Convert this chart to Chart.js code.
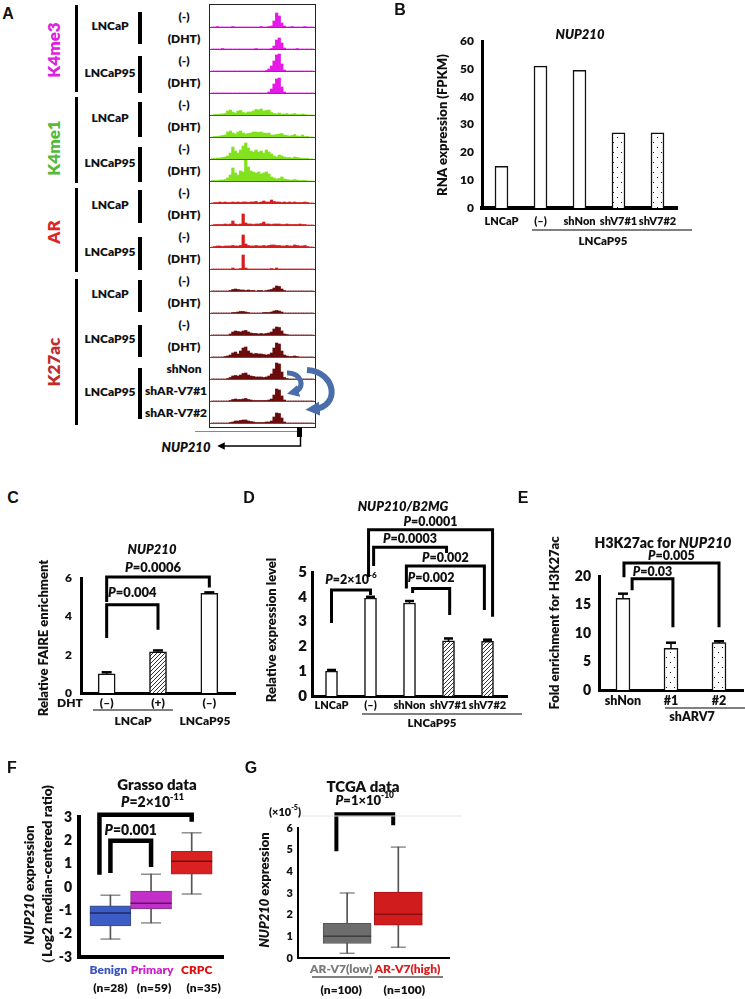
<!DOCTYPE html>
<html>
<head>
<meta charset="utf-8">
<script src="https://cdn.jsdelivr.net/npm/chart.js@4.4.1/dist/chart.umd.min.js"></script>
<style>
body { margin: 0; background: #fff; }
#fig { position: relative; width: 745px; height: 999px; overflow: hidden; font-family: Lato, "DejaVu Sans", sans-serif; color: #111; }
.lbl { position: absolute; white-space: nowrap; font-weight: 800; transform: translate(-50%, -50%); line-height: 1; }
.letter { position: absolute; font-family: "Liberation Sans", Arial, sans-serif; font-weight: bold; font-size: 16px; transform: translate(-50%, -50%); }
</style>
</head>
<body>
<div id="fig"></div>
<script>
// ---------- data ----------
// panel A : signal tracks (40 bins across the locus)
const markNames = ['K4me3', 'K4me1', 'AR', 'K27ac'];
const trackMark = [0,0,0,0, 1,1,1,1, 2,2,2,2, 3,3,3,3,3,3,3];
const trackConds = ['(-)','(DHT)','(-)','(DHT)', '(-)','(DHT)','(-)','(DHT)', '(-)','(DHT)','(-)','(DHT)',
                    '(-)','(DHT)','(-)','(DHT)','shNon','shAR-V7#1','shAR-V7#2'];
const cellLines = ['LNCaP','LNCaP95','LNCaP','LNCaP95','LNCaP','LNCaP95','LNCaP','LNCaP95','LNCaP95'];
const trackSignals = [
  [0,0,0.5,0,0,0,0,0,0.5,0,0,0,0,0,0,0,0,0,0,0.5,0,0,0.5,1,6,14,11,4,1,0,0,0.5,0,0,0,0,0.5,0,0,0],
  [0,0,0,0,0.5,0,0,0,0,0,0,0,0,0,0,0,0,0.5,0,0,0,0,0,0.5,3,9,11,6,1,0,0,0,0,0.5,0,0,0,0,0,0],
  [0,0,0,0,0,0,0,0,0,0,0,0,0,0,0,0,0,0,0,0,0,0.5,2,5,10,16,17,7,1,0,0,0,0,0,0,0,0,0,0,0],
  [0,0,0,0,0,0,0,0,0,0,0,0,0,0,0,0,0,0,0,0,0,0,1,4,9,14,15,6,1,0,0,0,0,0,0,0,0,0,0,0],
  [0,0.5,0.5,1,1,1.5,4,5,3,2,4,4.5,2.5,2,3,3,4,5.5,5,6,4,4.5,5,2.5,1.5,1,2,1,1,1.5,0.5,1,1.5,0.5,0.5,1,0.5,0,0,0],
  [0,0.5,0.5,1,1.5,2,5,6,4,3,5,6,4,3,3.5,4,5,5,4.5,5,4,3.5,4,2,2,2.5,3,3.5,2,1.5,1,1.5,2.5,1,0.5,2,0.5,0.5,0,0],
  [0.5,0.5,1,1,1.5,2,3,6,12,8,6,9,13,16,11,8,7,9,7,8,6,9,7,5,3,2,4,3,2,1.5,1.5,1,2,1.5,1,0.5,0.5,0.5,0,0],
  [0.5,0.5,0.5,1,1,1.5,3,6,13,8,6,10,9,21,14,10,9,8,9,7,8,9,7,4,3,2,2.5,4,2,1.5,1,1,1.5,1,0.5,0.5,0.5,0,0,0],
  [0,0.5,0.5,1,0.5,1,0.5,0.5,1,0.5,1,0.5,1,1,0.5,1,1,1.5,0.5,1,2,1,1,3,1.5,1,1,0.5,1,0.5,1,0.5,1,0.5,0.5,0.5,1,0.5,0,0],
  [0,0.5,0.5,0.5,0.5,1,0.5,1,4,1,0.5,1,11,2,1,1,0.5,1,1,1.5,3,1,1,0.5,1,1,1,0.5,0.5,1,0.5,0.5,0.5,0.5,1,0.5,0.5,0,0,0],
  [0,0.5,1,1,0.5,1,1,1,1.5,1,1,1.5,12,3,1.5,1,1,1.5,1,1,1.5,1,1.5,2,2,1.5,1.5,1,1,1.5,1,1,2,1.5,1,1,1.5,0.5,0,0],
  [0,0,0,0,0,0,0,0,1,0,0,0.5,14,1,0,0,0,0,0,0,0,0,0,0.5,0,1,0,0,0,0,0,0,0,0,0,0,0,0,0,0],
  [0,0,0,0,0,0,0,0.5,1.5,2,1.5,1,1,0.5,1,0.5,0.5,0,0.5,0.5,0,0.5,1,1.5,3,5,4.5,2,0.5,0,0,0,0,0,0,0,0,0,0,0],
  [0,0,0,0,0,0,0,0,0.5,0.5,1,1.5,1.5,1,0.5,0,0,0,0,0,0.5,0.5,0.5,1,2,2.5,2,1,0,0,0,0,0,0,0,0,0,0,0,0],
  [0,0,0,0,0,0,0,1,3,4,3.5,3,4,4.5,3,2,1.5,1.5,1,1.5,1,1.5,2,3,6,8,7.5,4,1,0.5,0,0,0,0,0,0,0,0,0,0],
  [0,0,0,0,0,0.5,1,2,4,5,3,6,9,10,6,4,3,3.5,3,3,2.5,2,2.5,4,9,14,13,6,2,1,0.5,0.5,1,0.5,0,0,0,0,0,0],
  [0,0,0,0,0,0,0.5,1.5,3,3.5,3,4,5.5,6,4,3,2.5,2,2,2,1.5,2,3,5,10,16,15,7,1.5,0.5,0,0,0,0,0,0,0,0,0,0],
  [0,0,0,0,0,0,0,0.5,1.5,2,1.5,1.5,2,2.5,1.5,1,0.5,0.5,0.5,0.5,0.5,0.5,1,2,6,12,11,5,1,0,0,0,0,0,0,0,0,0,0,0],
  [0,0,0,0,0,0,0,0.5,1,2,2,2.5,3,3,2,1.5,1,0.5,0.5,0.5,0.5,1,1,2,6,10,9.5,5,1,0,0,0,0,0,0,0,0,0,0,0]
];

// panel B
const bCats = ['LNCaP', '(–)', 'shNon', 'shV7#1', 'shV7#2'];
const bValues = [15, 51, 49.5, 27, 27];
// panel C
const cCats = ['(–)', '(+)', '(–)'];
const cValues = [1.0, 2.15, 5.2];
const cErrors = [0.08, 0.07, 0.05];
// panel D
const dCats = ['LNCaP', '(–)', 'shNon', 'shV7#1', 'shV7#2'];
const dValues = [1.0, 3.95, 3.75, 2.22, 2.2];
const dErrors = [0.05, 0.05, 0.08, 0.1, 0.07];
// panel E
const eCats = ['shNon', '#1', '#2'];
const eValues = [16.1, 7.3, 8.3];
const eErrors = [0.8, 1.0, 0.25];
// panel F
const fGroups = ['Benign', 'Primary', 'CRPC'];
const fCounts = ['(n=28)', '(n=59)', '(n=35)'];
const fMin = [-2.23, -1.54, -0.3];
const fQ1 = [-1.67, -0.94, 0.55];
const fMedian = [-1.11, -0.7, 1.1];
const fQ3 = [-0.81, -0.18, 1.53];
const fMax = [-0.35, 0.55, 2.32];
// panel G
const gGroups = ['AR-V7(low)', 'AR-V7(high)'];
const gCounts = ['(n=100)', '(n=100)'];
const gMin = [0.22, 0.5];
const gQ1 = [0.67, 1.52];
const gMedian = [1.0, 2.02];
const gQ3 = [1.6, 3.04];
const gMax = [3.0, 5.12];

// ---------- helpers ----------
const FONT = 'Lato, "DejaVu Sans", sans-serif';
const W = '800';
Chart.defaults.font.family = FONT;
Chart.defaults.color = '#111';
const fig = document.getElementById('fig');

function place(left, top, w, h) {
  const c = document.createElement('canvas');
  c.width = w; c.height = h;
  c.style.cssText = `position:absolute;left:${left}px;top:${top}px;width:${w}px;height:${h}px`;
  fig.appendChild(c);
  return c;
}
function lbl(text, x, y, size, color, extra) {
  const d = document.createElement('div');
  d.className = 'lbl';
  d.textContent = text;
  d.style.left = x + 'px'; d.style.top = y + 'px'; d.style.fontSize = size + 'px';
  if (color) d.style.color = color;
  if (extra) d.style.cssText += extra;
  fig.appendChild(d);
  return d;
}
function block(x, y, w, h, bg) {
  const d = document.createElement('div');
  d.style.cssText = `position:absolute;left:${x}px;top:${y}px;width:${w}px;height:${h}px;background:${bg}`;
  fig.appendChild(d);
}
function fontStr(size, italic, weight) {
  return (italic ? 'italic ' : '') + (weight || W) + ' ' + size + 'px ' + FONT;
}
// draw text made of parts: strings or {t, i (italic), sup}
function rich(ctx, parts, x, y, size, align, color, weight) {
  const items = parts.map(p => typeof p === 'string' ? { t: p } : { t: p.t, i: p.i, sup: p.sup });
  let w = 0;
  items.forEach(p => {
    p.s = p.sup ? size * 0.65 : size;
    ctx.font = fontStr(p.s, p.i, weight);
    p.w = ctx.measureText(p.t).width;
    w += p.w;
  });
  let cx = align === 'center' ? x - w / 2 : align === 'right' ? x - w : x;
  ctx.textBaseline = 'middle';
  ctx.textAlign = 'left';
  items.forEach(p => {
    ctx.font = fontStr(p.s, p.i, weight);
    ctx.fillStyle = color || '#111';
    ctx.fillText(p.t, cx, p.sup ? y - size * 0.38 : y);
    cx += p.w;
  });
}
const P = s => [{ t: 'P', i: 1 }, s];

function dotPattern() {
  const c = document.createElement('canvas'); c.width = 8; c.height = 10;
  const g = c.getContext('2d');
  g.fillStyle = '#fff'; g.fillRect(0, 0, 8, 10);
  g.fillStyle = '#111'; g.fillRect(1, 2, 1, 1); g.fillRect(5, 7, 1, 1);
  return g.createPattern(c, 'repeat');
}
function hatchPattern() {
  const c = document.createElement('canvas'); c.width = 4; c.height = 4;
  const g = c.getContext('2d');
  g.fillStyle = '#fff'; g.fillRect(0, 0, 4, 4);
  g.strokeStyle = '#333'; g.lineWidth = 1;
  g.beginPath();
  g.moveTo(0, 4); g.lineTo(4, 0);
  g.moveTo(-1, 1); g.lineTo(1, -1);
  g.moveTo(3, 5); g.lineTo(5, 3);
  g.stroke();
  return g.createPattern(c, 'repeat');
}
const DOT = dotPattern();
const HATCH = hatchPattern();

// plugin factory: error bars, significance brackets, extra texts and lines
function annot(o) {
  return {
    id: 'annot',
    afterDraw(chart) {
      const ctx = chart.ctx, xs = chart.scales.x, ys = chart.scales.y;
      const ox = o.origin[0], oy = o.origin[1];
      ctx.save();
      ctx.strokeStyle = '#000';
      if (o.errors) {
        const vals = chart.data.datasets[0].data;
        o.errors.forEach((e, i) => {
          const x = xs.getPixelForValue(i), y0 = ys.getPixelForValue(vals[i]), y1 = ys.getPixelForValue(vals[i] + e);
          ctx.lineWidth = 1.5;
          ctx.beginPath(); ctx.moveTo(x, y0); ctx.lineTo(x, y1); ctx.stroke();
          ctx.lineWidth = 2.5;
          ctx.beginPath(); ctx.moveTo(x - o.capW / 2, y1); ctx.lineTo(x + o.capW / 2, y1); ctx.stroke();
        });
      }
      (o.brackets || []).forEach(b => {
        const x1 = xs.getPixelForValue(b.from), x2 = xs.getPixelForValue(b.to);
        const yt = ys.getPixelForValue(b.top);
        ctx.lineWidth = o.bw; ctx.strokeStyle = '#000'; ctx.lineJoin = 'miter';
        ctx.beginPath();
        ctx.moveTo(x1, ys.getPixelForValue(b.l)); ctx.lineTo(x1, yt);
        ctx.lineTo(x2, yt); ctx.lineTo(x2, ys.getPixelForValue(b.r));
        ctx.stroke();
        rich(ctx, b.label, (x1 + x2) / 2 + (b.dx || 0), yt - b.dy, o.pSize, 'center', '#111');
      });
      (o.lines || []).forEach(l => {
        ctx.lineWidth = l.w || 1; ctx.strokeStyle = l.c || '#000';
        ctx.beginPath(); ctx.moveTo(l.x1 - ox, l.y1 - oy); ctx.lineTo(l.x2 - ox, l.y2 - oy); ctx.stroke();
      });
      (o.texts || []).forEach(t => {
        ctx.save();
        ctx.translate(t.x - ox, t.y - oy);
        if (t.rot) ctx.rotate(-Math.PI / 2);
        rich(ctx, t.parts, 0, 0, t.size, t.align || 'center', t.color, t.weight);
        ctx.restore();
      });
      (o.xLabels || []).forEach(row => row.values.forEach((v, i) => {
        rich(ctx, [v], xs.getPixelForValue(i) + (row.dx ? row.dx[i] : 0), row.y - oy, row.size, 'center', row.colors ? row.colors[i] : '#111');
      }));
      ctx.restore();
    }
  };
}

function padding(p) {
  const [cl, ct, cw, ch] = p.canvas, [al, at, ar, ab] = p.area;
  return { left: al - cl - p.yw, top: at - ct, right: cl + cw - ar, bottom: ct + ch - ab - p.xh };
}

function barPanel(p) {
  const cv = place(...p.canvas);
  new Chart(cv, {
    type: 'bar',
    data: {
      labels: p.labels,
      datasets: [{ data: p.values, backgroundColor: p.fills, borderColor: '#111', borderWidth: 1.5, barThickness: p.barW }]
    },
    options: {
      responsive: false, animation: false, events: [], devicePixelRatio: 1,
      layout: { padding: padding(p) },
      plugins: { legend: { display: false }, tooltip: { enabled: false } },
      scales: {
        x: {
          grid: { display: false, drawTicks: false },
          border: { color: '#000', width: p.xBorder },
          ticks: { color: '#111', font: { size: p.xFont, weight: W }, padding: p.xPad, maxRotation: 0, autoSkip: false },
          afterFit: s => { s.height = p.xh; }
        },
        y: {
          min: 0, max: p.yMax,
          grid: { display: false, drawTicks: false },
          border: { color: '#000', width: p.yBorder },
          ticks: { stepSize: p.yStep, color: '#111', font: { size: p.yFont, weight: W }, padding: p.yPad },
          afterFit: s => { s.width = p.yw; }
        }
      }
    },
    plugins: [annot(Object.assign({ origin: [p.canvas[0], p.canvas[1]] }, p.annot))]
  });
}

function boxPanel(p) {
  const cv = place(...p.canvas);
  const idx = p.q1.map((_, i) => i);
  new Chart(cv, {
    type: 'bar',
    data: {
      datasets: [
        { type: 'line', showLine: false, order: 0, data: idx.map(i => ({ x: i, y: p.median[i] })),
          pointStyle: 'line', pointRadius: p.boxW / 2, pointBorderColor: p.medColors, pointBorderWidth: 1.5 },
        { type: 'line', showLine: false, order: 1,
          data: idx.flatMap(i => [{ x: i, y: p.min[i] }, { x: i, y: p.max[i] }]),
          pointStyle: 'line', pointRadius: p.capR, pointBorderColor: '#555', pointBorderWidth: 1 },
        { type: 'bar', order: 2, grouped: false, data: idx.map(i => ({ x: i, y: [p.q1[i], p.q3[i]] })),
          backgroundColor: p.fills, borderColor: p.edges, borderWidth: 1, borderSkipped: false, barThickness: p.boxW },
        { type: 'bar', order: 3, grouped: false, data: idx.map(i => ({ x: i, y: [p.min[i], p.max[i]] })),
          backgroundColor: '#555', barThickness: 1 }
      ]
    },
    options: {
      responsive: false, animation: false, events: [], devicePixelRatio: 1,
      layout: { padding: padding(p) },
      plugins: { legend: { display: false }, tooltip: { enabled: false } },
      scales: {
        x: {
          type: 'linear', min: p.xMin, max: p.xMax, offset: false,
          grid: { display: false, drawTicks: false },
          border: { color: '#000', width: p.xBorder },
          ticks: { display: false },
          afterFit: s => { s.height = p.xh; }
        },
        y: {
          min: p.yMin, max: p.yMax,
          grid: { display: false, drawTicks: false },
          border: { color: '#000', width: p.yBorder },
          ticks: { stepSize: 1, color: '#111', font: { size: p.yFont, weight: W }, padding: p.yPad },
          afterFit: s => { s.width = p.yw; }
        }
      }
    },
    plugins: [annot(Object.assign({ origin: [p.canvas[0], p.canvas[1]] }, p.annot))]
  });
}

// ---------- panel A ----------
const markColors = ['#e619e6', '#82e21e', '#d61e1e', '#6a0c0c'];
const markTextColors = ['#e020e0', '#55b93a', '#e02424', '#c42a2a'];
const markCenters = [50, 148, 232, 362];
const markSpans = [[5, 92], [97, 183], [188, 272], [279, 425]];
const cellSpans = [[12, 44], [56, 93], [102, 137], [147, 182], [190, 223], [237, 270], [280, 312], [325, 357], [368, 419]];

const frame = document.createElement('div');
frame.style.cssText = 'position:absolute;left:209px;top:4px;width:107px;height:424px;border:1px solid #222;box-sizing:border-box';
fig.appendChild(frame);

trackSignals.forEach((sig, k) => {
  const base = 27 + 22 * k;
  const cv = place(211, base - 21, 103, 21);
  new Chart(cv, {
    type: 'bar',
    data: { labels: sig.map((_, i) => i), datasets: [{ data: sig, backgroundColor: markColors[trackMark[k]], barPercentage: 1, categoryPercentage: 1, borderWidth: 0 }] },
    options: {
      responsive: false, animation: false, events: [], devicePixelRatio: 1,
      layout: { padding: 0 },
      plugins: { legend: { display: false }, tooltip: { enabled: false } },
      scales: { x: { display: false }, y: { display: false, min: 0, max: 21 } }
    }
  });
  block(210, base, 105, 1, '#555');
  const t = trackConds[k];
  lbl(t, t.length > 6 ? 176 : 184, base - 10, 12);
});

markNames.forEach((m, i) => {
  lbl(m, 53, markCenters[i], 17, markTextColors[i], 'transform:translate(-50%,-50%) rotate(-90deg)');
  block(75, markSpans[i][0], 3, markSpans[i][1] - markSpans[i][0], '#000');
});
cellLines.forEach((c, i) => {
  const [a, b] = cellSpans[i];
  block(138, a, 3.5, b - a, '#000');
  lbl(c, 110, (a + b) / 2 - 2, 12);
});

const svgNS = 'http://www.w3.org/2000/svg';
const svgWrap = document.createElement('div');
svgWrap.style.cssText = 'position:absolute;left:0;top:0;z-index:5';
svgWrap.innerHTML = `<svg xmlns="${svgNS}" width="745" height="460">
<defs>
<marker id="ba" viewBox="0 0 10 10" refX="4" refY="5" markerWidth="2.4" markerHeight="2.4" orient="auto"><path d="M0,0 L10,5 L0,10 z" fill="#4a6ea9"/></marker>
<marker id="ka" viewBox="0 0 10 10" refX="5" refY="5" markerWidth="6" markerHeight="5" orient="auto"><path d="M0,0 L10,5 L0,10 z" fill="#000"/></marker>
</defs>
<path d="M287 373 C302 372 306 389 294 392" fill="none" stroke="#4a6ea9" stroke-width="5"  marker-end="url(#ba)"/>
<path d="M307 370 C337 372 340 407 314 409" fill="none" stroke="#4a6ea9" stroke-width="6" marker-end="url(#ba)"/>
<line x1="195" y1="431.5" x2="298" y2="431.5" stroke="#888" stroke-width="1"/>
<rect x="297" y="427" width="5" height="10" fill="#000"/>
<polyline points="300.5,437 300.5,446 221,446" fill="none" stroke="#000" stroke-width="1.5" marker-end="url(#ka)"/>
</svg>`;
fig.appendChild(svgWrap);
lbl('NUP210', 186, 447, 13, '#111', 'font-style:italic');

// ---------- panel B ----------
barPanel({
  canvas: [400, 15, 310, 235], area: [482, 41, 677, 208], yw: 50, xh: 22,
  labels: bCats, values: bValues, fills: ['#fff', '#fff', '#fff', DOT, DOT], barW: 13,
  yMax: 60, yStep: 10, yFont: 12, yPad: 8, xFont: 11, xPad: 7, yBorder: 3, xBorder: 4,
  annot: {
    texts: [
      { parts: [{ t: 'NUP210', i: 1 }], x: 580, y: 35, size: 13 },
      { parts: ['RNA expression (FPKM)'], x: 443, y: 125, size: 13, rot: 1 },
      { parts: ['LNCaP95'], x: 603, y: 241, size: 11.5 }
    ],
    lines: [{ x1: 532, y1: 230, x2: 692, y2: 230, w: 1 }]
  }
});

// ---------- panel C ----------
barPanel({
  canvas: [0, 530, 245, 200], area: [81, 578, 235, 693], yw: 40, xh: 20,
  labels: cCats, values: cValues, fills: ['#fff', HATCH, '#fff'], barW: 17,
  yMax: 6, yStep: 2, yFont: 12, yPad: 9, xFont: 12, xPad: 3, yBorder: 3, xBorder: 3,
  annot: {
    errors: cErrors, capW: 10, bw: 3, pSize: 13,
    brackets: [
      { from: 0, to: 1, l: 2.87, r: 3.3, top: 4.6, dy: 12, label: P('=0.004') },
      { from: 0, to: 2, l: 4.75, r: 5.5, top: 6.05, dy: 9, dx: -5, label: P('=0.0006') }
    ],
    texts: [
      { parts: [{ t: 'NUP210', i: 1 }], x: 152, y: 550, size: 13 },
      { parts: ['Relative FAIRE enrichment'], x: 44, y: 638, size: 13, rot: 1 },
      { parts: ['DHT'], x: 70, y: 703, size: 12 },
      { parts: ['LNCaP'], x: 133, y: 721, size: 12 },
      { parts: ['LNCaP95'], x: 205, y: 721, size: 12 }
    ],
    lines: [{ x1: 93, y1: 710, x2: 173, y2: 710, w: 1 }]
  }
});

// ---------- panel D ----------
barPanel({
  canvas: [245, 495, 280, 240], area: [312, 572, 507, 696], yw: 30, xh: 20,
  labels: dCats, values: dValues, fills: ['#fff', '#fff', '#fff', HATCH, HATCH], barW: 12,
  yMax: 5, yStep: 1, yFont: 15, yPad: 5, xFont: 11, xPad: 3, yBorder: 3, xBorder: 3,
  annot: {
    errors: dErrors, capW: 9, bw: 3, pSize: 12.5,
    brackets: [
      { from: 0, to: 1, l: 2.94, r: 4.07, top: 4.27, dy: 10, label: [{ t: 'P', i: 1 }, '=2×10', { t: '-6', sup: 1 }] },
      { from: 2.08, to: 3.03, l: 4.15, r: 3.27, top: 4.33, dy: 11, label: P('=0.002') },
      { from: 1.92, to: 3.92, l: 4.33, r: 3.47, top: 5.24, dy: 8, label: P('=0.002') },
      { from: 1.08, to: 2.95, l: 5.24, r: 5.77, top: 6.0, dy: 8, label: P('=0.0003') },
      { from: 0.95, to: 4.13, l: 4.8, r: 3.2, top: 6.7, dy: 8, label: P('=0.0001') }
    ],
    texts: [
      { parts: [{ t: 'NUP210/B2MG', i: 1 }], x: 403, y: 507, size: 13 },
      { parts: ['Relative expression level'], x: 272, y: 630, size: 13, rot: 1 },
      { parts: ['LNCaP95'], x: 432, y: 723, size: 11.5 }
    ],
    lines: [{ x1: 362, y1: 714, x2: 522, y2: 714, w: 1 }]
  }
});

// ---------- panel E ----------
barPanel({
  canvas: [525, 530, 220, 200], area: [599, 576, 743, 690], yw: 30, xh: 18,
  labels: eCats, values: eValues, fills: ['#fff', DOT, DOT], barW: 14,
  yMax: 20, yStep: 5, yFont: 14, yPad: 8, xFont: 12.5, xPad: 3, yBorder: 3, xBorder: 3,
  annot: {
    errors: eErrors, capW: 10, bw: 3, pSize: 12.5,
    brackets: [
      { from: 0.19, to: 1.04, l: 17.5, r: 11, top: 19.5, dy: 7, label: P('=0.03') },
      { from: 0.02, to: 2, l: 19.8, r: 11, top: 22.3, dy: 7, label: P('=0.005') }
    ],
    texts: [
      { parts: ['H3K27ac for ', { t: 'NUP210', i: 1 }], x: 663, y: 543, size: 14 },
      { parts: ['Fold enrichment for H3K27ac'], x: 555, y: 623, size: 13, rot: 1 },
      { parts: ['shARV7'], x: 692, y: 717, size: 12.5 }
    ],
    lines: [{ x1: 665, y1: 708, x2: 745, y2: 708, w: 1 }]
  }
});

// ---------- panel F ----------
boxPanel({
  canvas: [0, 775, 245, 224], area: [79, 817, 235, 957], yw: 30, xh: 10,
  xMin: -0.773, xMax: 2.77, yMin: -3, yMax: 3, yFont: 14, yPad: 7, yBorder: 4, xBorder: 4,
  min: fMin, q1: fQ1, median: fMedian, q3: fQ3, max: fMax,
  boxW: 41, capR: 10,
  fills: ['#3d5cc6', '#c22fc9', '#d92121'], edges: ['#3a4a80', '#7a3a80', '#883030'],
  medColors: ['#1c2a66', '#5a1460', '#6a0e0e'],
  annot: {
    bw: 4.5, pSize: 14,
    brackets: [
      { from: 0, to: 1, l: 0.6, r: 0.86, top: 1.98, dy: 10, label: P('=0.001') },
      { from: -0.27, to: 2, l: 0.53, r: 2.8, top: 3.1, dy: 12, dx: 7, label: [{ t: 'P', i: 1 }, '=2×10', { t: '-11', sup: 1 }] }
    ],
    texts: [
      { parts: ['Grasso data'], x: 157, y: 785, size: 15 },
      { parts: [{ t: 'NUP210', i: 1 }, ' expression'], x: 30, y: 885, size: 13.5, rot: 1 },
      { parts: ['（Log2 median-centered ratio)'], x: 48, y: 878, size: 13.5, rot: 1 }
    ],
    xLabels: [
      { values: fGroups, y: 970, size: 12, colors: ['#3a55c0', '#cc22cc', '#dd1111'], dx: [-2, 1, 5] },
      { values: fCounts, y: 988, size: 12, dx: [0, 3, 12] }
    ]
  }
});

// ---------- panel G ----------
boxPanel({
  canvas: [245, 775, 230, 224], area: [298, 828, 455, 958], yw: 25, xh: 10,
  xMin: -0.96, xMax: 2.0, yMin: 0, yMax: 6, yFont: 11, yPad: 5, yBorder: 2, xBorder: 2,
  min: gMin, q1: gQ1, median: gMedian, q3: gQ3, max: gMax,
  boxW: 48, capR: 7.5,
  fills: ['#6d6d6d', '#d01c1c'], edges: ['#555', '#a31515'],
  medColors: ['#3d3d3d', '#8a1010'],
  annot: {
    bw: 4, pSize: 13,
    brackets: [
      { from: -0.21, to: 0.9, l: 4.93, r: 6.13, top: 6.63, dy: 14, label: [{ t: 'P', i: 1 }, '=1×10', { t: '-10', sup: 1 }] }
    ],
    texts: [
      { parts: ['TCGA data'], x: 363, y: 787, size: 15 },
      { parts: ['(×10', { t: '-5', sup: 1 }, ')'], x: 285, y: 812, size: 11 },
      { parts: [{ t: 'NUP210', i: 1 }, ' expression'], x: 265, y: 890, size: 13, rot: 1 }
    ],
    lines: [
      { x1: 298, y1: 816, x2: 462, y2: 816, w: 1, c: '#e4e4e4' },
      { x1: 312, y1: 977, x2: 373, y2: 977, w: 1 },
      { x1: 378, y1: 977, x2: 443, y2: 977, w: 1 }
    ],
    xLabels: [
      { values: gGroups, y: 969, size: 12, colors: ['#7a7a7a', '#d82020'], dx: [-6, 9] },
      { values: gCounts, y: 990, size: 12, dx: [-6, 6] }
    ]
  }
});

// panel letters
[['A', 8, 14], ['B', 400, 10], ['C', 13, 498], ['D', 249, 498], ['E', 523, 498], ['F', 12, 768], ['G', 251, 768]].forEach(([t, x, y]) => {
  const d = document.createElement('div');
  d.className = 'letter';
  d.textContent = t;
  d.style.left = x + 'px'; d.style.top = y + 'px';
  fig.appendChild(d);
});
</script>
</body>
</html>
